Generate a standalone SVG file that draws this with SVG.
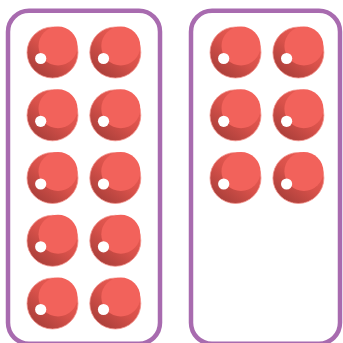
<svg xmlns="http://www.w3.org/2000/svg" xmlns:xlink="http://www.w3.org/1999/xlink" width="343" height="343" viewBox="0 0 343 343">
  <style>
    .frame { fill: #ffffff; stroke: #A86BAF; stroke-width: 4.5; }
  </style>
  <defs>
    <linearGradient id="ballGrad" x1="0.85" y1="0.1" x2="0.2" y2="0.95">
      <stop offset="0" stop-color="#EE5D55"/>
      <stop offset="0.5" stop-color="#D8514A"/>
      <stop offset="1" stop-color="#A93F3A"/>
    </linearGradient>
    <g id="ball">
      <circle cx="0" cy="0" r="25.5" fill="url(#ballGrad)" stroke="#F3948E" stroke-width="0.8"/>
      <circle cx="5.5" cy="-6.5" r="19.5" fill="#F2625B"/>
      <circle cx="-11.8" cy="6" r="5.6" fill="#ffffff"/>
    </g>
  </defs>
  <g id="frame-left">
    <rect class="frame" x="8" y="10.7" width="152" height="333" rx="21"/>
  </g>
  <g id="frame-right">
    <rect class="frame" x="191" y="10.7" width="149" height="333" rx="21"/>
  </g>
  <g id="left-balls">
    <g id="l1"><use xlink:href="#ball" x="52.5" y="52.5"/></g>
    <g id="l2"><use xlink:href="#ball" x="115.3" y="52.5"/></g>
    <g id="l3"><use xlink:href="#ball" x="52.5" y="115.3"/></g>
    <g id="l4"><use xlink:href="#ball" x="115.3" y="115.3"/></g>
    <g id="l5"><use xlink:href="#ball" x="52.5" y="178"/></g>
    <g id="l6"><use xlink:href="#ball" x="115.3" y="178"/></g>
    <g id="l7"><use xlink:href="#ball" x="52.5" y="240.8"/></g>
    <g id="l8"><use xlink:href="#ball" x="115.3" y="240.8"/></g>
    <g id="l9"><use xlink:href="#ball" x="52.5" y="303.5"/></g>
    <g id="l10"><use xlink:href="#ball" x="115.3" y="303.5"/></g>
  </g>
  <g id="right-balls">
    <g id="r1"><use xlink:href="#ball" x="235.5" y="52.5"/></g>
    <g id="r2"><use xlink:href="#ball" x="298.4" y="52.5"/></g>
    <g id="r3"><use xlink:href="#ball" x="235.5" y="115.3"/></g>
    <g id="r4"><use xlink:href="#ball" x="298.4" y="115.3"/></g>
    <g id="r5"><use xlink:href="#ball" x="235.5" y="178"/></g>
    <g id="r6"><use xlink:href="#ball" x="298.4" y="178"/></g>
  </g>
  <g id="connectors"/>
</svg>
